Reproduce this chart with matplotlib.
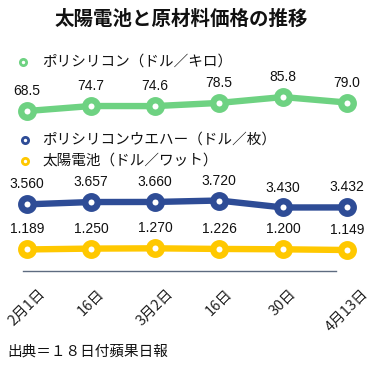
import matplotlib.pyplot as plt
from matplotlib.lines import Line2D

# Data
dates = ["2月1日", "16日", "3月2日", "16日", "30日", "4月13日"]
poly_si = [68.5, 74.7, 74.6, 78.5, 85.8, 79.0]          # ドル／キロ
wafer = [3.560, 3.657, 3.660, 3.720, 3.430, 3.432]      # ドル／枚
cell = [1.189, 1.250, 1.270, 1.226, 1.200, 1.149]       # ドル／ワット

green = "#6ed282"
navy = "#2e4c96"
yellow = "#ffc800"

W, H = 379, 365
fig = plt.figure(figsize=(W / 100, H / 100), dpi=100)
jp = ["Noto Sans CJK JP", "DejaVu Sans"]
num = ["Liberation Sans", "DejaVu Sans"]


def px_axes(left, top, width, height):
    return fig.add_axes([left / W, 1 - (top + height) / H, width / W, height / H])


xs = list(range(len(dates)))
xlim = (-12 / 64, 333 / 64)

# one axes per series, stacked
specs = [
    (poly_si, green, (60, 95), 89.6, 28.3, "{:.1f}"),
    (wafer, navy, (3.3, 3.8), 198.6, 12.0, "{:.3f}"),
    (cell, yellow, (1.0, 1.4), 246.5, 5.6, "{:.3f}"),
]
axes = []
for vals, col, ylim, top, h, fmt in specs:
    ax = px_axes(15, top, 345, h)
    ax.set_xlim(*xlim)
    ax.set_ylim(*ylim)
    ax.patch.set_visible(False)
    for s in ax.spines.values():
        s.set_visible(False)
    ax.set_yticks([])
    ax.set_xticks([])
    ax.plot(xs, vals, color=col, lw=4.6, marker="o", ms=9, mew=4.6,
            mfc="white", mec=col, clip_on=False, solid_capstyle="round")
    for x, v in zip(xs, vals):
        ax.annotate(fmt.format(v), (x, v), xytext=(0, 11.5),
                    textcoords="offset points", ha="center", va="baseline",
                    fontsize=10, family=num, color="#111111")
    axes.append(ax)

# x axis on the bottom series
ax = axes[-1]
ax.spines["bottom"].set_visible(True)
ax.spines["bottom"].set_position(("outward", 13.6))
ax.spines["bottom"].set_bounds(-4 / 64, 309 / 64)
ax.spines["bottom"].set_color("#5d6b80")
ax.spines["bottom"].set_linewidth(1)
ax.set_xticks(xs)
ax.set_xticklabels(dates, rotation=45, ha="center", fontsize=10.5,
                   family=jp, color="#222222")
ax.tick_params(axis="x", length=0, pad=11)

# legend entries
legend = [
    ("ポリシリコン（ドル／キロ）", green, 23, 62),
    ("ポリシリコンウエハー（ドル／枚）", navy, 25, 140),
    ("太陽電池（ドル／ワット）", yellow, 25, 161),
]
for label, col, x, y in legend:
    fig.add_artist(Line2D([x / W], [1 - y / H], marker="o", ms=4.5, mew=2,
                          mfc="white", mec=col, transform=fig.transFigure))
    fig.text(42 / W, 1 - y / H, label, fontsize=10.5, family=jp,
             va="center", ha="left", color="#111111")

fig.text(181 / W, 1 - 19 / H, "太陽電池と原材料価格の推移", fontsize=14,
         family=jp, weight="bold", ha="center", va="center", color="#111111")
fig.text(7 / W, 1 - 352 / H, "出典＝１８日付蘋果日報", fontsize=10.5,
         family=jp, ha="left", va="center", color="#111111")

fig.savefig("out.png", dpi=100)
